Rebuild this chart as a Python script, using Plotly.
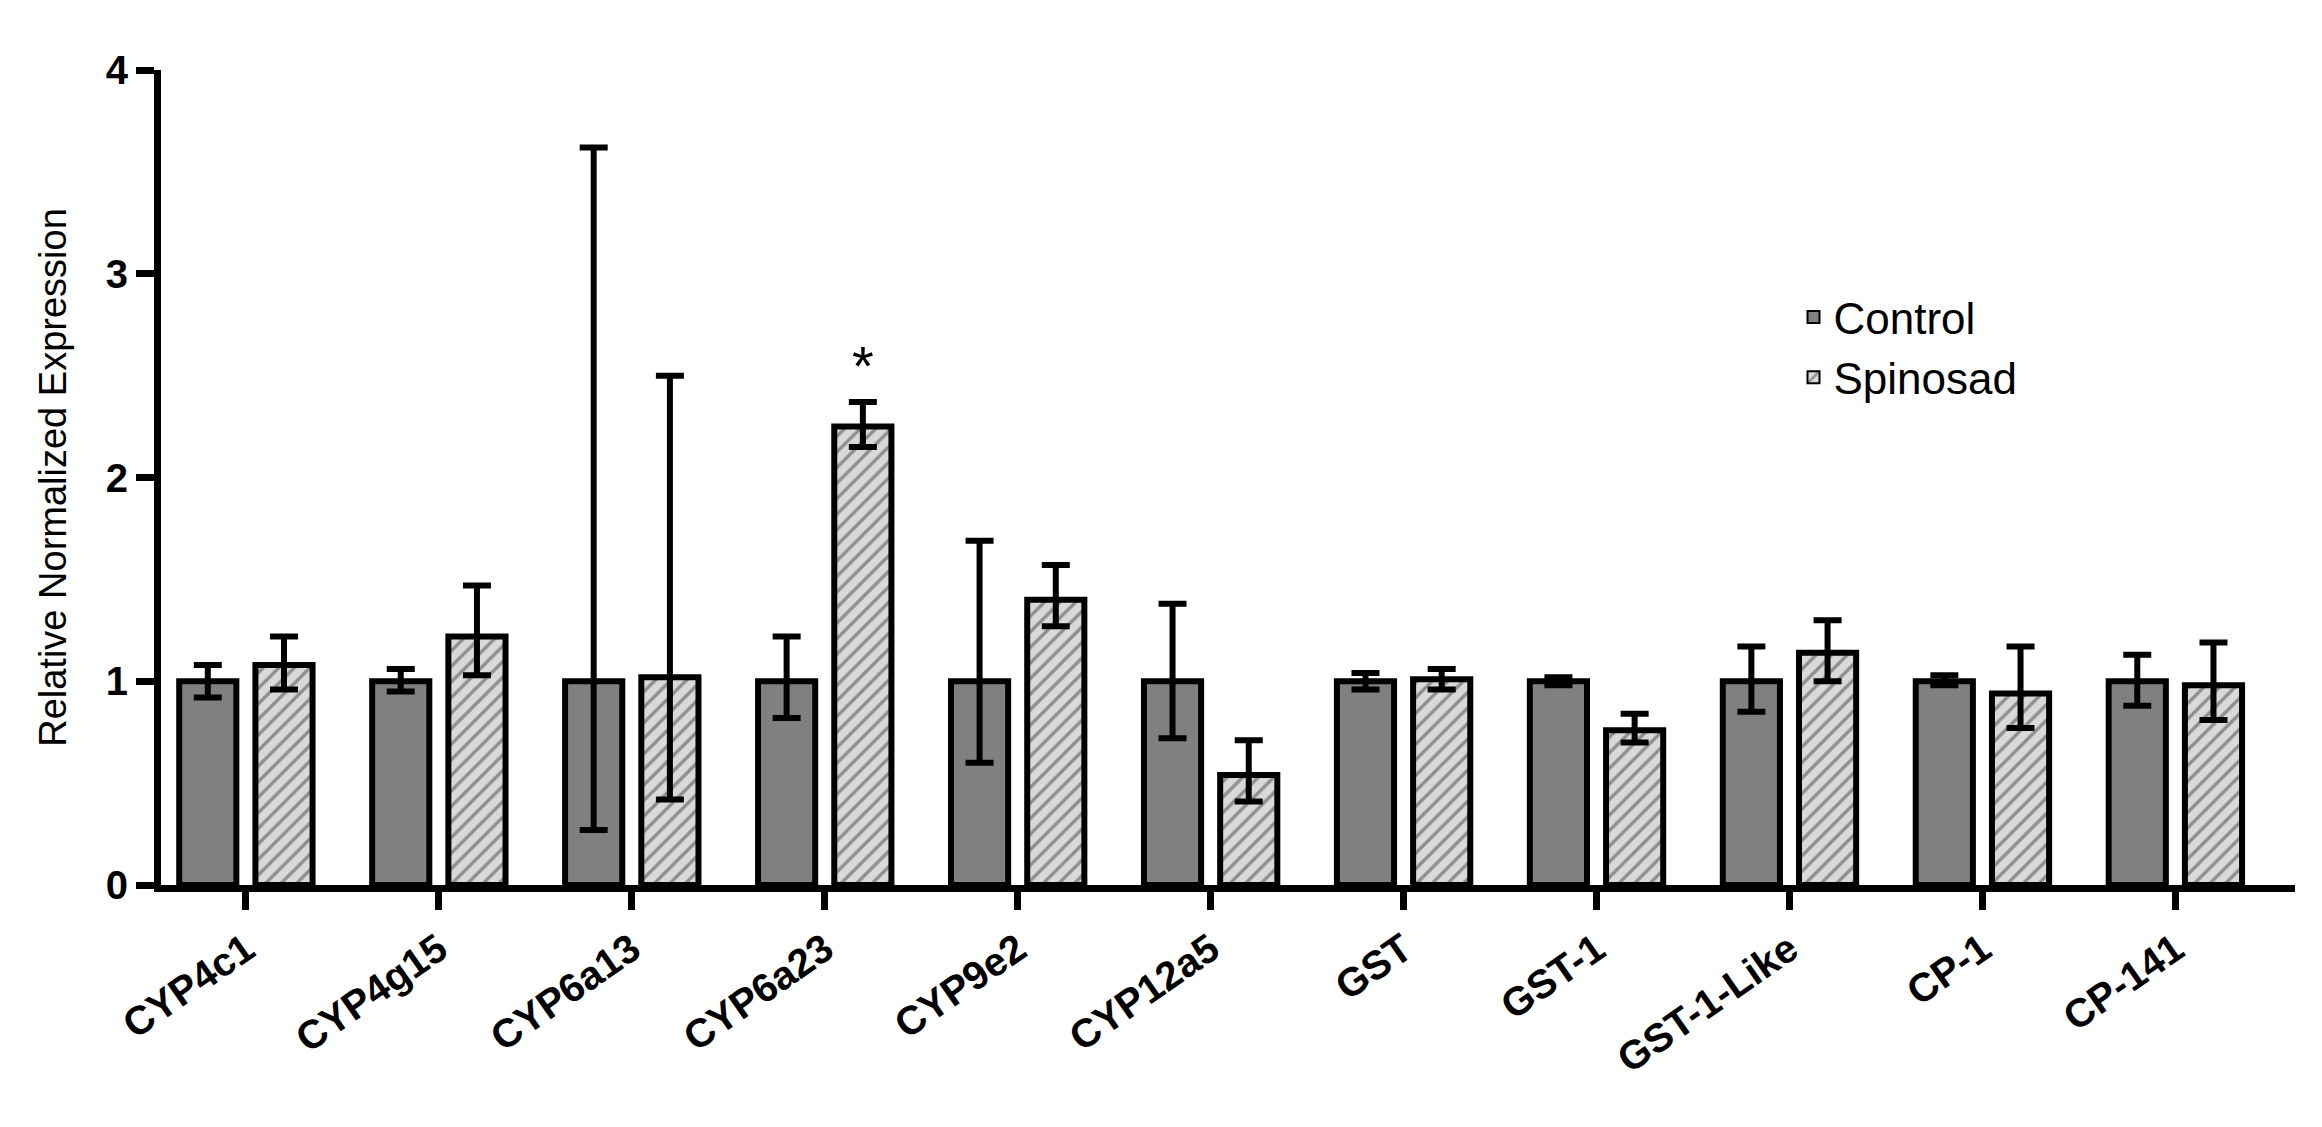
import plotly.graph_objects as go

genes = ["CYP4c1","CYP4g15","CYP6a13","CYP6a23","CYP9e2","CYP12a5","GST","GST-1","GST-1-Like","CP-1","CP-141"]
control = [1.0,1.0,1.0,1.0,1.0,1.0,1.0,1.0,1.0,1.0,1.0]
control_hi = [1.08,1.06,3.62,1.22,1.69,1.38,1.04,1.02,1.17,1.03,1.13]
control_lo = [0.92,0.95,0.27,0.82,0.60,0.72,0.96,0.98,0.85,0.98,0.88]
spinosad = [1.08,1.22,1.02,2.25,1.40,0.54,1.01,0.76,1.14,0.94,0.98]
spinosad_hi = [1.22,1.47,2.50,2.37,1.57,0.71,1.06,0.84,1.30,1.17,1.19]
spinosad_lo = [0.96,1.03,0.42,2.15,1.27,0.41,0.96,0.70,1.00,0.77,0.81]

def errs(v, hi, lo):
    return [h - x for x, h in zip(v, hi)], [x - l for x, l in zip(v, lo)]

cu, cm = errs(control, control_hi, control_lo)
su, sm = errs(spinosad, spinosad_hi, spinosad_lo)

fig = go.Figure()
fig.add_bar(name="Control", x=genes, y=control,
            marker=dict(color="#808080", line=dict(color="black", width=6)),
            error_y=dict(type="data", array=cu, arrayminus=cm, color="black", thickness=6, width=14))
fig.add_bar(name="Spinosad", x=genes, y=spinosad,
            marker=dict(color="#d9d9d9", line=dict(color="black", width=6),
                        pattern=dict(shape="/", fgcolor="#444444", bgcolor="#d9d9d9", size=11, solidity=0.3)),
            error_y=dict(type="data", array=su, arrayminus=sm, color="black", thickness=6, width=14))

fig.add_annotation(x="CYP6a23", y=2.55, text="*", showarrow=False, xshift=38,
                   font=dict(size=56, color="black", family="Liberation Sans"))

fig.update_layout(
    width=2322, height=1127, plot_bgcolor="white", paper_bgcolor="white",
    margin=dict(l=153, r=35, t=62, b=250),
    barmode="group", bargap=0.21, bargroupgap=0.25,
    font=dict(family="Liberation Sans", color="black"),
    legend=dict(x=0.765, y=0.74, xanchor="left", yanchor="top",
                font=dict(size=44, family="Liberation Sans"), itemsizing="constant",
                tracegroupgap=30, bgcolor="rgba(0,0,0,0)"),
    xaxis=dict(range=[-0.44, 10.62], showline=True, linecolor="black", linewidth=7,
               ticks="outside", ticklen=18, tickwidth=7, tickcolor="black",
               tickangle=-35, tickfont=dict(size=40, family="Liberation Sans", weight="bold")),
    yaxis=dict(range=[0, 4], showline=True, linecolor="black", linewidth=7,
               ticks="outside", ticklen=18, tickwidth=7, tickcolor="black",
               tickvals=[0,1,2,3,4], showgrid=False, zeroline=False,
               tickfont=dict(size=40, family="Liberation Sans", weight="bold"),
               title=dict(text="Relative Normalized Expression", font=dict(size=38, family="Liberation Sans"), standoff=30)),
)
fig.write_html("out.html")
